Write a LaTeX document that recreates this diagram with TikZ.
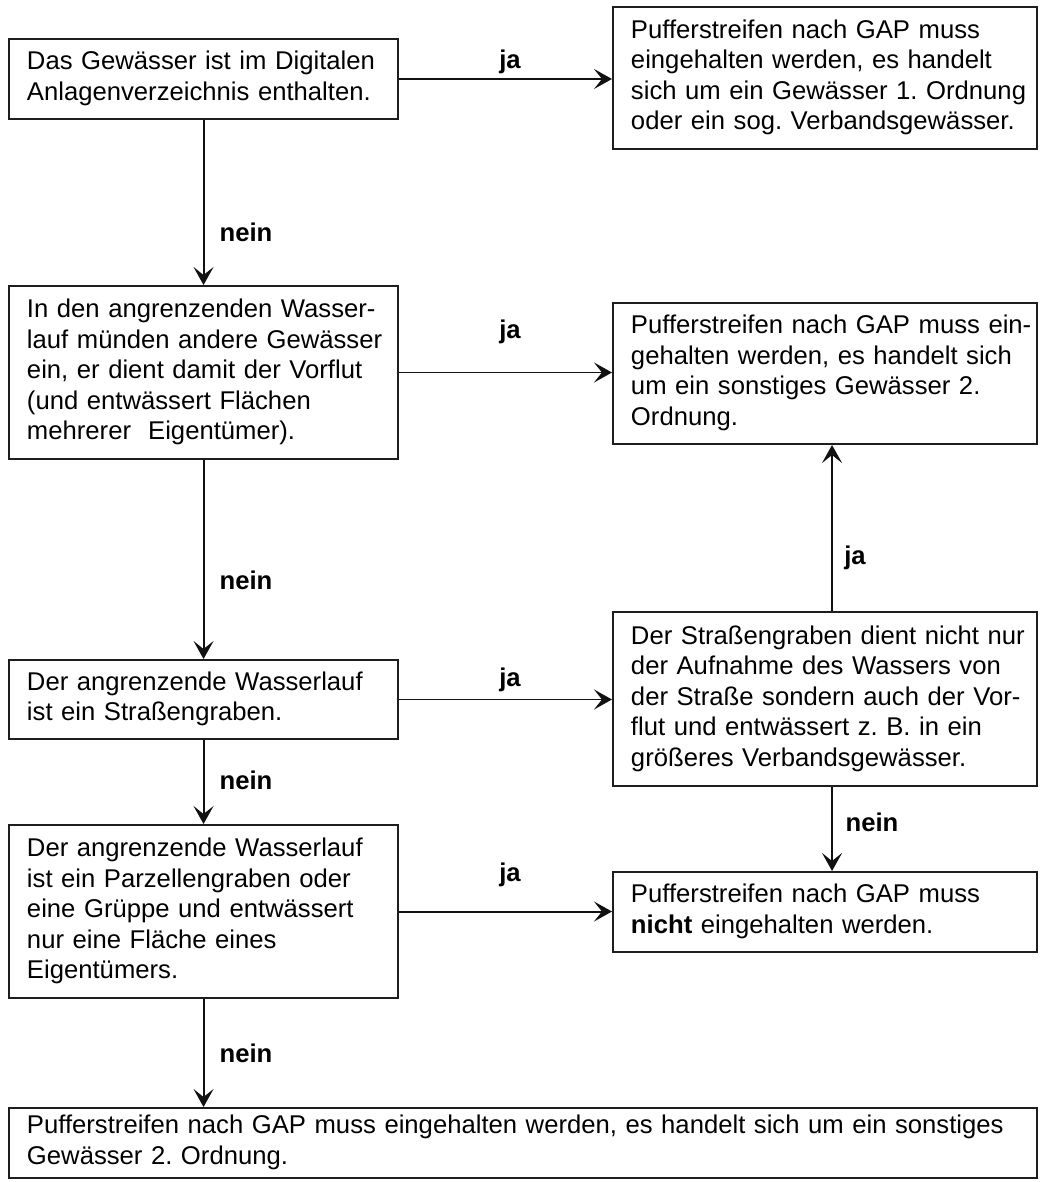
\documentclass[tikz,border=0pt]{standalone}
\usepackage{fontspec}
\setmainfont{Liberation Sans}
\usetikzlibrary{arrows.meta}
\frenchspacing
\definecolor{rahmen}{HTML}{1E1E1E}
\definecolor{pfeilfarbe}{HTML}{111111}
\newcommand{\zeilen}[1]{\begin{tabular}{@{}l@{}}#1\end{tabular}}
\tikzset{
  kasten/.style={draw=rahmen, line width=1.4pt, anchor=north west,
    inner xsep=0.45cm, inner ysep=0pt, font=\fontsize{18.25}{21.7}\selectfont},
  schmal/.style={kasten, text width=8.825cm},
  breit/.style={kasten, text width=9.7cm},
  pfeil/.style={draw=pfeilfarbe, line width=1.4pt,
    -{Stealth[length=0.45cm, width=0.5cm, inset=0.2cm]}},
  marke/.style={font=\fontsize{18.25}{21.7}\selectfont\bfseries, inner sep=0pt},
}

\begin{document}
\begin{tikzpicture}[x=0.025cm,y=-0.025cm]
  \useasboundingbox (0,0) rectangle (1041,1182);

  \node[schmal, minimum height=2cm] (frage1) at (8,38)
    {\zeilen{Das Gewässer ist im Digitalen\\Anlagenverzeichnis enthalten.}};
  \node[breit, minimum height=3.55cm] (ergebnis1) at (612,6)
    {\zeilen{Pufferstreifen nach GAP muss\\eingehalten werden, es handelt\\sich um ein Gewässer 1. Ordnung\\oder ein sog. Verbandsgewässer.}};

  \node[schmal, minimum height=4.325cm] (frage2) at (8,285)
    {\zeilen{In den angrenzenden Wasser-\\lauf münden andere Gewässer\\ein, er dient damit der Vorflut\\(und entwässert Flächen\\mehrerer~ Eigentümer).}};
  \node[breit, minimum height=3.525cm] (ergebnis2) at (612,302)
    {\zeilen{Pufferstreifen nach GAP muss ein-\\gehalten werden, es handelt sich\\um ein sonstiges Gewässer 2.\\Ordnung.}};

  \node[schmal, minimum height=1.975cm] (frage3) at (8,659)
    {\zeilen{Der angrenzende Wasserlauf\\ist ein Straßengraben.}};
  \node[breit, minimum height=4.35cm] (vorflut) at (612,611)
    {\zeilen{Der Straßengraben dient nicht nur\\der Aufnahme des Wassers von\\der Straße sondern auch der Vor-\\flut und entwässert z. B. in ein\\größeres Verbandsgewässer.}};

  \node[schmal, minimum height=4.325cm] (frage4) at (8,824)
    {\zeilen{Der angrenzende Wasserlauf\\ist ein Parzellengraben oder\\eine Grüppe und entwässert\\nur eine Fläche eines\\Eigentümers.}};
  \node[breit, minimum height=2cm] (ergebnis3) at (612,871)
    {\zeilen{Pufferstreifen nach GAP muss\\\textbf{nicht} eingehalten werden.}};

  \node[kasten, text width=24.8cm, minimum height=1.75cm] (ergebnis4) at (8,1107)
    {\zeilen{Pufferstreifen nach GAP muss eingehalten werden, es handelt sich um ein sonstiges\\Gewässer 2. Ordnung.}};

  \draw[pfeil] (frage1.east) -- (frage1.east -| ergebnis1.west);
  \draw[pfeil] (frage1.south) -- (frage2.north);
  \draw[pfeil] (frage2.east) -- (frage2.east -| ergebnis2.west);
  \draw[pfeil] (frage2.south) -- (frage3.north);
  \draw[pfeil] (frage3.east) -- (frage3.east -| vorflut.west);
  \draw[pfeil] ([xshift=0.175cm]vorflut.north) -- ([xshift=0.175cm]ergebnis2.south);
  \draw[pfeil] ([xshift=0.175cm]vorflut.south) -- ([xshift=0.175cm]ergebnis3.north);
  \draw[pfeil] (frage3.south) -- (frage4.north);
  \draw[pfeil] (frage4.east) -- (frage4.east -| ergebnis3.west);
  \draw[pfeil] (frage4.south) -- (frage4.south |- ergebnis4.north);

  \node[marke] (ja1) at (510,62) {ja};
  \node[marke] (ja2) at (510,332) {ja};
  \node[marke] (ja3) at (510,680) {ja};
  \node[marke] (ja4) at (510,875) {ja};
  \node[marke] (ja5) at (855,558) {ja};
  \node[marke] (nein1) at (246,232) {nein};
  \node[marke] (nein2) at (246,580) {nein};
  \node[marke] (nein3) at (246,780) {nein};
  \node[marke] (nein4) at (246,1053) {nein};
  \node[marke] (nein5) at (872,822) {nein};
\end{tikzpicture}
\end{document}
